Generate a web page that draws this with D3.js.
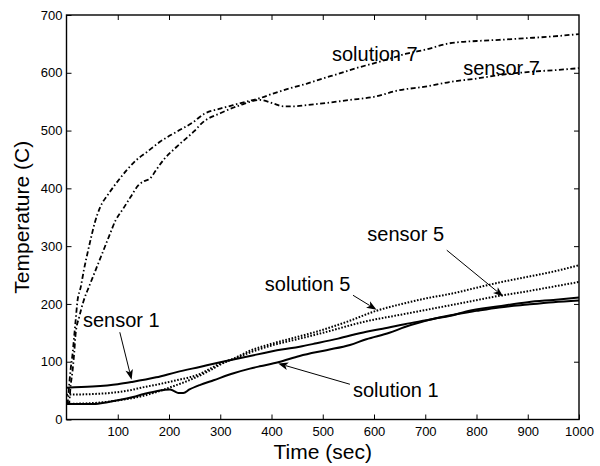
<!DOCTYPE html>
<html>
<head>
<meta charset="utf-8">
<script src="https://cdn.jsdelivr.net/npm/d3@7"></script>
<style>
  body { margin: 0; background: #fff; }
  svg { display: block; }
  text { font-family: "Liberation Sans", Arial, Helvetica, sans-serif; fill: #000; }
</style>
</head>
<body>
<svg id="chart" width="600" height="466"></svg>
<script>
// Tick values
const xTicks = [100, 200, 300, 400, 500, 600, 700, 800, 900, 1000];
const yTicks = [0, 100, 200, 300, 400, 500, 600, 700];

// Temperature histories: time (sec) and temperature (C)
const solution7Time = [0, 2, 5, 8, 12, 15, 18, 21, 28, 34, 41, 48, 55, 66, 80, 92, 105, 118, 135, 157, 183, 215, 248, 267, 300, 325, 350, 377, 403, 435, 468, 500, 533, 565, 598, 630, 663, 700, 747, 800, 844, 900, 950, 1000];
const solution7Temp = [27, 29, 58, 86, 115, 144, 173, 202, 230, 259, 288, 315, 340, 368, 388, 403, 418, 432, 448, 463, 481, 498, 515, 528, 538, 544, 550, 556, 564, 573, 581, 590, 599, 608, 616, 624, 633, 640, 651, 655, 657, 660, 663, 667];

const sensor7Time = [0, 5, 8, 12, 15, 18, 25, 34, 44, 57, 70, 83, 96, 110, 125, 140, 150, 163, 175, 190, 215, 248, 267, 300, 339, 377, 403, 423, 445, 468, 500, 553, 598, 650, 700, 747, 800, 844, 909, 960, 1000];
const sensor7Temp = [27, 29, 58, 86, 115, 150, 178, 207, 230, 259, 288, 317, 345, 364, 385, 405, 412, 417, 432, 450, 472, 498, 515, 530, 544, 553, 547, 542, 542, 544, 547, 553, 558, 570, 576, 584, 590, 596, 602, 605, 608];

const solution5Time = [0, 60, 100, 150, 200, 250, 280, 300, 330, 358, 400, 455, 488, 550, 604, 650, 715, 747, 800, 844, 900, 950, 1000];
const solution5Temp = [27, 29, 33, 41, 55, 72, 85, 95, 107, 119, 131, 144, 152, 170, 188, 199, 212, 217, 228, 237, 247, 256, 267];

const sensor5Time = [0, 50, 86, 120, 151, 180, 215, 240, 261, 280, 300, 330, 358, 400, 455, 500, 585, 650, 715, 780, 844, 900, 950, 1000];
const sensor5Temp = [43, 44, 46, 50, 56, 61, 68, 73, 79, 88, 97, 106, 116, 128, 140, 150, 170, 181, 192, 203, 214, 222, 230, 238];

const solution1Time = [0, 53, 80, 105, 130, 151, 175, 190, 202, 210, 218, 228, 240, 261, 287, 326, 358, 377, 413, 455, 507, 553, 585, 630, 660, 715, 747, 780, 844, 900, 950, 1000];
const solution1Temp = [27, 27, 30, 34, 39, 44, 49, 51, 52, 49, 46, 46, 52, 60, 68, 80, 88, 92, 99, 110, 120, 129, 139, 150, 160, 174, 179, 187, 196, 203, 207, 211];

const sensor1Time = [0, 50, 100, 128, 175, 215, 260, 300, 358, 420, 455, 488, 530, 585, 617, 660, 715, 747, 800, 844, 900, 950, 1000];
const sensor1Temp = [55, 57, 61, 65, 73, 82, 91, 99, 110, 121, 126, 132, 140, 152, 157, 165, 174, 180, 188, 194, 199, 203, 206];

// Line styles per series
const styles = {
  dashdot: { width: 1.8, dash: "5,2.5,1.5,2.5" },
  dotted:  { width: 2,   dash: "1.6,1.6" },
  solid:   { width: 2,   dash: null }
};

const series = [
  { time: solution7Time, temp: solution7Temp, style: "dashdot" },
  { time: sensor7Time,   temp: sensor7Temp,   style: "dashdot" },
  { time: solution5Time, temp: solution5Temp, style: "dotted" },
  { time: sensor5Time,   temp: sensor5Temp,   style: "dotted" },
  { time: solution1Time, temp: solution1Temp, style: "solid" },
  { time: sensor1Time,   temp: sensor1Temp,   style: "solid" }
];

// Callouts: label anchor, and optional arrow (tail -> tip) in data units
const callouts = [
  { text: "solution 7", at: [518, 620] },
  { text: "sensor 7",   at: [774, 596] },
  { text: "sensor 5",   at: [587, 309], tail: [742, 293], tip: [852, 213] },
  { text: "solution 5", at: [387, 222], tail: [559, 215], tip: [605, 190] },
  { text: "sensor 1",   at: [32, 160],  tail: [104, 151], tip: [127, 69] },
  { text: "solution 1", at: [559, 39],  tail: [553, 61],  tip: [413, 97] }
];

const svg = d3.select("#chart");
const plot = { left: 66.5, right: 579, top: 15, bottom: 419.5 };

const x = d3.scaleLinear().domain([0, 1000]).range([plot.left, plot.right]);
const y = d3.scaleLinear().domain([0, 700]).range([plot.bottom, plot.top]);

const fontFamily = '"Liberation Sans", Arial, Helvetica, sans-serif';
const plain = d3.format("d");

function styleAxis(g) {
  g.attr("font-family", fontFamily).attr("font-size", 13).attr("color", "#000");
  g.select(".domain").remove();
  g.selectAll(".tick line").attr("stroke-width", 1);
}

// Bottom axis with labels, ticks pointing inward
svg.append("g")
  .attr("transform", `translate(0,${plot.bottom})`)
  .call(d3.axisBottom(x).tickValues(xTicks).tickFormat(plain).tickSizeInner(-5).tickSizeOuter(0).tickPadding(7))
  .call(styleAxis);

// Top axis, ticks only
svg.append("g")
  .attr("transform", `translate(0,${plot.top})`)
  .call(d3.axisTop(x).tickValues(xTicks.slice(0, -1)).tickSizeInner(-5).tickSizeOuter(0).tickFormat(""))
  .call(styleAxis);

// Left axis with labels
svg.append("g")
  .attr("transform", `translate(${plot.left},0)`)
  .call(d3.axisLeft(y).tickValues(yTicks).tickFormat(plain).tickSizeInner(-5).tickSizeOuter(0).tickPadding(4))
  .call(styleAxis);

// Right axis, ticks only
svg.append("g")
  .attr("transform", `translate(${plot.right},0)`)
  .call(d3.axisRight(y).tickValues(yTicks.slice(1, -1)).tickSizeInner(-5).tickSizeOuter(0).tickFormat(""))
  .call(styleAxis);

// Data curves
const line = d3.line()
  .x(d => x(d[0]))
  .y(d => y(d[1]))
  .curve(d3.curveMonotoneX);

svg.append("clipPath").attr("id", "plot-clip")
  .append("rect")
  .attr("x", plot.left).attr("y", plot.top)
  .attr("width", plot.right - plot.left).attr("height", plot.bottom - plot.top);

svg.append("g")
  .attr("clip-path", "url(#plot-clip)")
  .selectAll("path")
  .data(series)
  .join("path")
  .attr("d", s => line(s.time.map((t, i) => [t, s.temp[i]])))
  .attr("fill", "none")
  .attr("stroke", "#000")
  .attr("stroke-width", s => styles[s.style].width)
  .attr("stroke-dasharray", s => styles[s.style].dash)
  .attr("stroke-linejoin", "round");

// Plot frame
svg.append("rect")
  .attr("x", plot.left).attr("y", plot.top)
  .attr("width", plot.right - plot.left).attr("height", plot.bottom - plot.top)
  .attr("fill", "none").attr("stroke", "#000").attr("stroke-width", 1.4);

// Callout arrows
const arrowLen = 10, arrowHalf = 3.8;
callouts.filter(c => c.tip).forEach(c => {
  const x0 = x(c.tail[0]), y0 = y(c.tail[1]);
  const x1 = x(c.tip[0]),  y1 = y(c.tip[1]);
  const len = Math.hypot(x1 - x0, y1 - y0);
  const ux = (x1 - x0) / len, uy = (y1 - y0) / len;
  const bx = x1 - ux * arrowLen, by = y1 - uy * arrowLen;
  svg.append("line")
    .attr("x1", x0).attr("y1", y0).attr("x2", bx + ux * 2).attr("y2", by + uy * 2)
    .attr("stroke", "#000").attr("stroke-width", 1);
  svg.append("path")
    .attr("d", `M${x1},${y1}L${bx - uy * arrowHalf},${by + ux * arrowHalf}L${bx + ux * 2.5},${by + uy * 2.5}L${bx + uy * arrowHalf},${by - ux * arrowHalf}Z`)
    .attr("fill", "#000");
});

// Callout labels
svg.append("g")
  .selectAll("text")
  .data(callouts)
  .join("text")
  .attr("x", c => x(c.at[0]))
  .attr("y", c => y(c.at[1]))
  .attr("font-size", 20)
  .text(c => c.text);

// Axis titles
svg.append("text")
  .attr("x", (plot.left + plot.right) / 2)
  .attr("y", 459)
  .attr("text-anchor", "middle")
  .attr("font-size", 21)
  .text("Time (sec)");

svg.append("text")
  .attr("transform", `translate(29,${(plot.top + plot.bottom) / 2}) rotate(-90)`)
  .attr("text-anchor", "middle")
  .attr("font-size", 21)
  .text("Temperature (C)");
</script>
</body>
</html>
